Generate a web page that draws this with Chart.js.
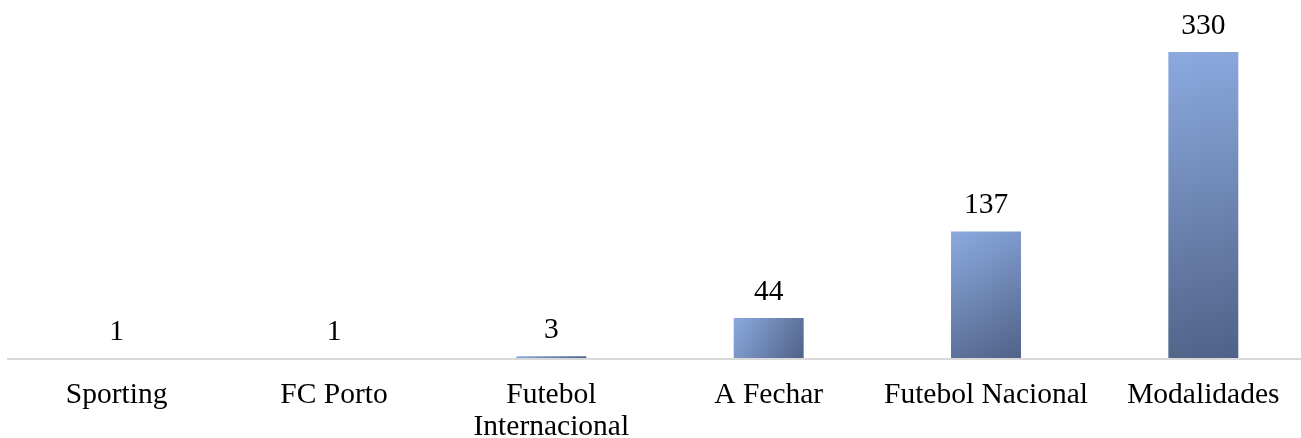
<!DOCTYPE html>
<html>
<head>
<meta charset="utf-8">
<script src="https://cdn.jsdelivr.net/npm/chart.js@4.4.1/dist/chart.umd.min.js"></script>
<style>
  html, body { margin: 0; padding: 0; background: #fff; overflow: hidden; }
  #wrap { width: 1312px; height: 438px; }
</style>
</head>
<body>
<div id="wrap"><canvas id="chart"></canvas></div>
<script>
/* ==========================
   DATA
========================== */
const categories = ["Sporting", "FC Porto", ["Futebol", "Internacional"], "A Fechar", "Futebol Nacional", "Modalidades"];
const values = [1, 1, 3, 44, 137, 330];

/* ==========================
   BAR GRADIENT
========================== */
function barFill(context) {
  const chart = context.chart;
  const xs = chart.scales.x, ys = chart.scales.y;
  if (!chart.chartArea || !xs || !ys || context.type !== "data") return "#7f9bd0";
  const w = (xs.width / categories.length) * 0.322;
  const cx = xs.getPixelForValue(context.dataIndex);
  const top = ys.getPixelForValue(context.raw);
  const bottom = ys.getPixelForValue(0);
  if (![w, cx, top, bottom].every(Number.isFinite)) return "#7f9bd0";
  const g = chart.ctx.createLinearGradient(cx - w / 2, top, cx + w / 2, bottom);
  g.addColorStop(0, "#8caae0");
  g.addColorStop(1, "#4f6186");
  return g;
}

/* ==========================
   VALUE LABELS
========================== */
const valueLabels = {
  id: "valueLabels",
  afterDatasetsDraw(chart) {
    const ctx = chart.ctx;
    const meta = chart.getDatasetMeta(0);
    ctx.save();
    ctx.font = "29.5px 'Liberation Serif', 'Times New Roman', serif";
    ctx.fillStyle = "#000";
    ctx.textAlign = "center";
    ctx.textBaseline = "middle";
    meta.data.forEach((bar, i) => {
      ctx.fillText(String(values[i]), bar.x, bar.y - 26);
    });
    ctx.restore();
  }
};

/* ==========================
   CHART
========================== */
new Chart(document.getElementById("chart"), {
  type: "bar",
  data: {
    labels: categories,
    datasets: [{
      data: values,
      backgroundColor: barFill,
      borderWidth: 0,
      barPercentage: 0.322,
      categoryPercentage: 1
    }]
  },
  options: {
    responsive: true,
    maintainAspectRatio: false,
    animation: false,
    layout: { padding: { left: 8, right: 0, top: 24, bottom: 0 } },
    plugins: { legend: { display: false }, tooltip: { enabled: false } },
    scales: {
      x: {
        grid: { display: false, drawTicks: false },
        border: { display: true, color: "#d9d9d9", width: 2, z: 1 },
        ticks: {
          color: "#000",
          padding: 20,
          maxRotation: 0,
          autoSkip: false,
          font: { family: "'Liberation Serif', 'Times New Roman', serif", size: 29.5, lineHeight: 1.09 }
        },
        afterFit(scale) { scale.height = 79; }
      },
      y: {
        display: false,
        min: 0,
        max: 360
      }
    }
  },
  plugins: [valueLabels]
});
</script>
</body>
</html>
